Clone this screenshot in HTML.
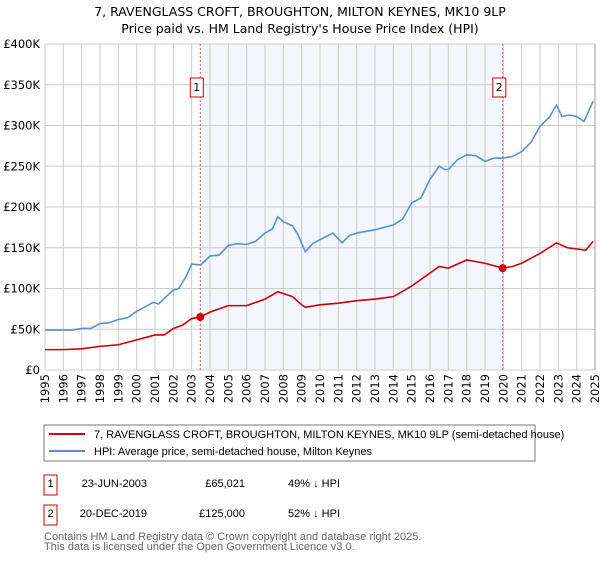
<!DOCTYPE html>
<html><head><meta charset="utf-8"><style>
body{margin:0;background:#fff;font-family:"Liberation Sans","DejaVu Sans",sans-serif;}
svg text{font-family:"DejaVu Sans","Liberation Sans",sans-serif;}
svg text.ls{font-family:"Liberation Sans","DejaVu Sans",sans-serif;}
</style></head><body>
<svg id="c" width="600" height="560" xmlns="http://www.w3.org/2000/svg">
<text x="300" y="16" text-anchor="middle" font-size="12.5" fill="#000">7, RAVENGLASS CROFT, BROUGHTON, MILTON KEYNES, MK10 9LP</text>
<text x="300" y="33" text-anchor="middle" font-size="12.5" fill="#000">Price paid vs. HM Land Registry's House Price Index (HPI)</text>
<g id="plot"></g>
<rect x="44" y="425" width="491" height="36" fill="#fff" stroke="#777"/>
<line x1="49" y1="434" x2="85" y2="434" stroke="#cc0000" stroke-width="2"/>
<text class="ls" x="94" y="438" font-size="11">7, RAVENGLASS CROFT, BROUGHTON, MILTON KEYNES, MK10 9LP (semi-detached house)</text>
<line x1="49" y1="451" x2="85" y2="451" stroke="#5b8fd4" stroke-width="2"/>
<text class="ls" x="94" y="455" font-size="11">HPI: Average price, semi-detached house, Milton Keynes</text>
<g>
<rect x="44" y="475" width="13" height="20" fill="#fff" stroke="#cc0000"/><text class="ls" x="50.5" y="487" text-anchor="middle" font-size="11">1</text>
<text class="ls" x="147" y="487" text-anchor="end" font-size="11">23-JUN-2003</text>
<text class="ls" x="245" y="487" text-anchor="end" font-size="11">£65,021</text>
<text class="ls" x="288" y="487" font-size="11">49% ↓ HPI</text></g>
<g>
<rect x="44" y="505" width="13" height="20" fill="#fff" stroke="#cc0000"/><text class="ls" x="50.5" y="517" text-anchor="middle" font-size="11">2</text>
<text class="ls" x="147" y="517" text-anchor="end" font-size="11">20-DEC-2019</text>
<text class="ls" x="245" y="517" text-anchor="end" font-size="11">£125,000</text>
<text class="ls" x="288" y="517" font-size="11">52% ↓ HPI</text></g>
<text class="ls" x="44" y="540" font-size="11" fill="#666">Contains HM Land Registry data © Crown copyright and database right 2025.</text>
<text class="ls" x="44" y="550" font-size="11" fill="#666">This data is licensed under the Open Government Licence v3.0.</text>
</svg>
<script>
const hpiYears=[1995,1995.5,1996,1996.5,1997,1997.5,1998,1998.5,1999,1999.5,2000,2000.5,2000.9,2001.2,2001.6,2002,2002.3,2002.7,2003,2003.5,2004,2004.5,2005,2005.5,2006,2006.5,2007,2007.4,2007.7,2008,2008.5,2008.8,2009.2,2009.6,2010,2010.7,2011.2,2011.6,2012,2013,2013.5,2014,2014.5,2015,2015.5,2016,2016.5,2016.8,2017,2017.5,2018,2018.5,2019,2019.5,2020,2020.5,2021,2021.5,2022,2022.5,2022.9,2023.2,2023.6,2024,2024.4,2024.9];
const hpiValues=[49,49,49,49,51,51,57,58,62,64,72,78,83,81,90,98,100,115,130,129,140,141,153,155,154,158,168,173,188,182,177,166,145,155,160,168,156,165,168,172,175,178,185,205,211,234,250,246,246,258,264,263,256,260,260,262,268,279,299,310,325,311,313,311,305,330];
const priceYears=[1995,1996,1997,1998,1999,2000,2001,2001.5,2002,2002.5,2003,2003.47,2004,2005,2006,2007,2007.7,2008.5,2009,2009.2,2010,2011,2012,2013,2014,2015,2016,2016.5,2017,2018,2019,2019.97,2020.5,2021,2022,2022.9,2023.5,2024.5,2024.9];
const priceValues=[25,25,26,29,31,37,43,43,51,55,63,65,71,79,79,87,96,90,80,77,80,82,85,87,90,103,119,127,125,135,131,125,127,131,143,156,150,147,158];
const saleYears=[2003.47,2019.97];
const saleValues=[65.021,125];
const saleLabels=["1","2"];
const yTicks=[0,50,100,150,200,250,300,350,400];
const yTickLabels=["£0","£50K","£100K","£150K","£200K","£250K","£300K","£350K","£400K"];
const xTicks=[1995,1996,1997,1998,1999,2000,2001,2002,2003,2004,2005,2006,2007,2008,2009,2010,2011,2012,2013,2014,2015,2016,2017,2018,2019,2020,2021,2022,2023,2024,2025];

const X0=45,X1=595,Y0=370,Y1=44;
const xs=y=>X0+(y-1995)/(2025-1995)*(X1-X0);
const ys=v=>Y0-v/400*(Y0-Y1);
const NS="http://www.w3.org/2000/svg";
const g=document.getElementById('plot');
function mk(t,a){const e=document.createElementNS(NS,t);for(const k in a)e.setAttribute(k,a[k]);g.appendChild(e);return e;}
let e=mk('rect',{x:xs(saleYears[0]),y:Y1,width:xs(saleYears[1])-xs(saleYears[0]),height:Y0-Y1,fill:'#f3f6fd'});


yTicks.forEach((t,i)=>{
 let l=mk('line',{x1:X0,x2:X1,y1:ys(t),y2:ys(t),stroke:'#cccccc'});
 
 
 let tx=mk('text',{x:X0-5,y:ys(t)+4,'text-anchor':'end','font-size':'11.5'});tx.textContent=yTickLabels[i];
 
 
});
xTicks.forEach(t=>{
 let l=mk('line',{x1:xs(t),x2:xs(t),y1:Y1,y2:Y0,stroke:'#cccccc'});
 
 
 let tx=mk('text',{x:0,y:0,'text-anchor':'end','font-size':'11.5',transform:`translate(${xs(t)+4},${Y0+4}) rotate(-90)`});tx.textContent=t;
 
 
});
saleYears.forEach((yr,i)=>{
 let l=mk('line',{x1:xs(yr),x2:xs(yr),y1:Y1,y2:Y0,stroke:'#e06060','stroke-dasharray':'2,2'});
 
 
 let b=mk('rect',{x:xs(yr)-10,y:78,width:13,height:19,fill:'#fff',stroke:'#cc0000'});
 
 
 let tx=mk('text',{x:xs(yr)-3.5,y:91,'text-anchor':'middle','font-size':'11'});tx.textContent=saleLabels[i];
 
 
});
let hp=mk('polyline',{points:hpiYears.map((y,i)=>xs(y)+','+ys(hpiValues[i])).join(' '),fill:'none',stroke:'#5b8fd4','stroke-width':1.6});


let pp=mk('polyline',{points:priceYears.map((y,i)=>xs(y)+','+ys(priceValues[i])).join(' '),fill:'none',stroke:'#cc0000','stroke-width':1.6});


saleYears.forEach((yr,i)=>{
 let c=mk('circle',{cx:xs(yr),cy:ys(saleValues[i]),r:4,fill:'#cc0000'});
 
 
});
let ax=mk('line',{x1:X1,x2:X1,y1:Y1,y2:Y0,stroke:'#999'});


</script>
</body></html>
